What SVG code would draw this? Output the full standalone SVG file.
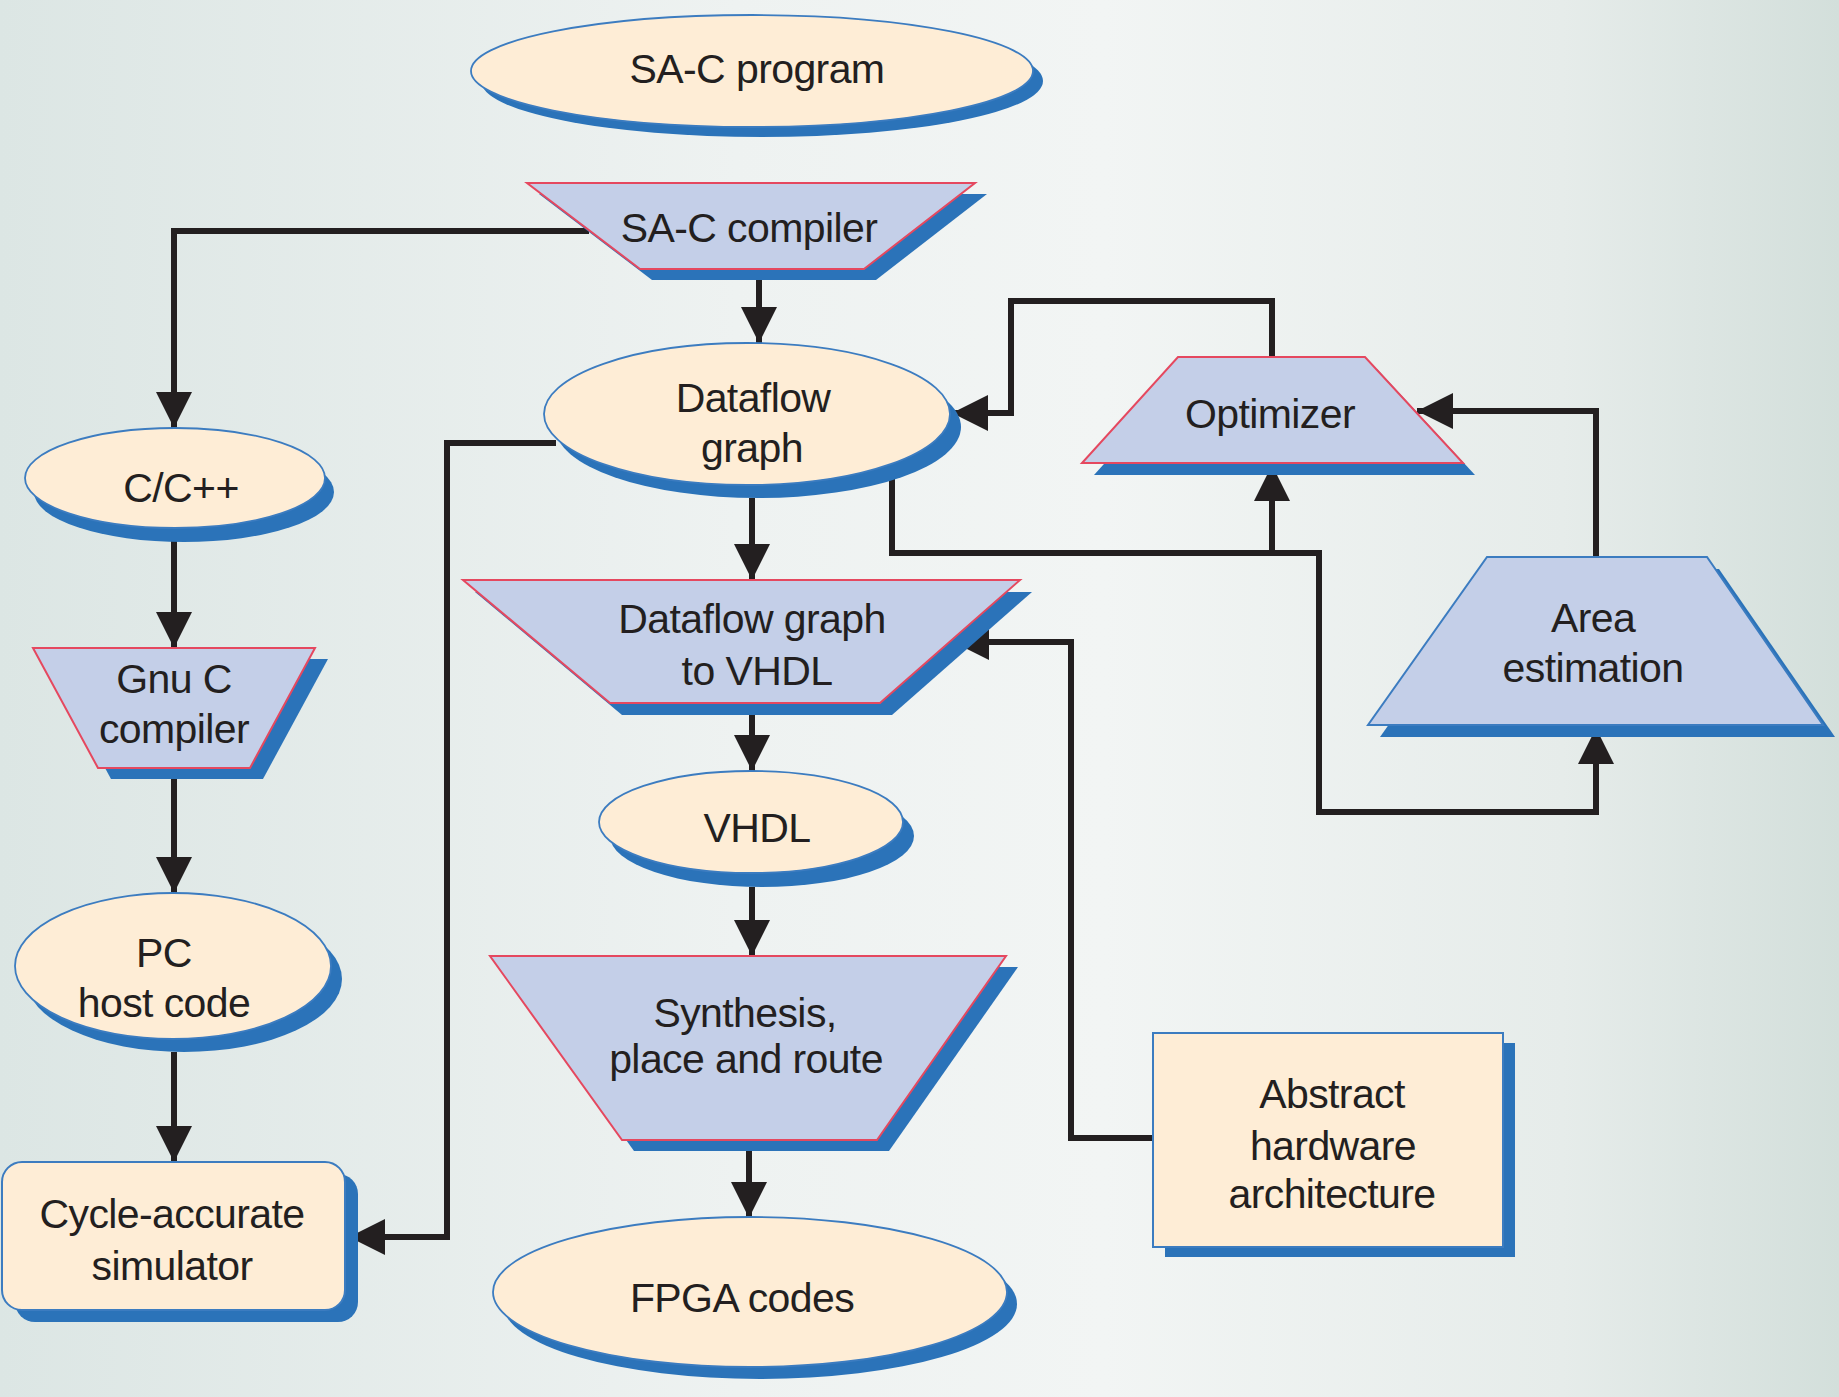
<svg xmlns="http://www.w3.org/2000/svg" width="1839" height="1397" viewBox="0 0 1839 1397">
  <defs>
    <linearGradient id="bg" x1="0" y1="0" x2="1" y2="0">
      <stop offset="0" stop-color="#DCE6E4"/>
      <stop offset="0.4" stop-color="#EEF2F1"/>
      <stop offset="0.6" stop-color="#F2F5F4"/>
      <stop offset="0.85" stop-color="#E6ECEA"/>
      <stop offset="1" stop-color="#D3DFDB"/>
    </linearGradient>
    <marker id="arr" markerUnits="userSpaceOnUse" markerWidth="36" markerHeight="36" viewBox="0 0 36 36" refX="36" refY="18" orient="auto">
      <path d="M0,0 L36,18 L0,36 Z" fill="#231F20"/>
    </marker>
    <style>
      .shadow { fill: #2B73B9; }
      .ell { fill: #FEEDD6; stroke: #3C7CC0; stroke-width: 1.8; }
      .box { fill: #FEEDD6; stroke: #3C7CC0; stroke-width: 2; }
      .trap { fill: #C4CFE8; stroke: #E5485F; stroke-width: 2; stroke-linejoin: miter; }
      .trapb { fill: #C4CFE8; stroke: #3C7CC0; stroke-width: 2; }
      .lbl { font-family: "Liberation Sans", Arial, sans-serif; font-size: 41px; fill: #231F20; text-anchor: middle; letter-spacing: -0.6px; }
      .conn { fill: none; stroke: #231F20; stroke-width: 6; stroke-linejoin: miter; stroke-linecap: butt; }
    </style>
  </defs>

  <rect x="0" y="0" width="1839" height="1397" fill="url(#bg)"/>

  <g id="connectors">
    <path class="conn" d="M589,231 H174 V428" marker-end="url(#arr)"/>
    <path class="conn" d="M759,269 V343" marker-end="url(#arr)"/>
    <path class="conn" d="M752,498 V580" marker-end="url(#arr)"/>
    <path class="conn" d="M752,715 V771" marker-end="url(#arr)"/>
    <path class="conn" d="M752,887 V956" marker-end="url(#arr)"/>
    <path class="conn" d="M749,1150 V1218" marker-end="url(#arr)"/>
    <path class="conn" d="M174,540 V648" marker-end="url(#arr)"/>
    <path class="conn" d="M174,779 V893" marker-end="url(#arr)"/>
    <path class="conn" d="M174,1052 V1162" marker-end="url(#arr)"/>
    <path class="conn" d="M556,443 H447 V1237 H349" marker-end="url(#arr)"/>
    <path class="conn" d="M1272,357 V301 H1011 V413 H952" marker-end="url(#arr)"/>
    <path class="conn" d="M892,477 V553 H1319 V812 H1596 V728" marker-end="url(#arr)"/>
    <path class="conn" d="M1272,553 V465" marker-end="url(#arr)"/>
    <path class="conn" d="M1596,557 V411 H1417" marker-end="url(#arr)"/>
    <path class="conn" d="M1153,1138 H1071 V642 H953" marker-end="url(#arr)"/>
  </g>

  <g id="sac-program">
    <ellipse class="shadow" cx="762" cy="81" rx="281" ry="56"/>
    <ellipse class="ell" cx="752" cy="71" rx="281" ry="56"/>
    <text class="lbl" x="757" y="83">SA-C program</text>
  </g>

  <g id="sac-compiler">
    <polygon class="shadow" points="539,194 987,194 876,280 652,280"/>
    <polygon class="trap" points="527,183 975,183 864,269 640,269"/>
    <text class="lbl" x="749" y="242">SA-C compiler</text>
  </g>

  <g id="cpp">
    <ellipse class="shadow" cx="184" cy="492" rx="150" ry="50"/>
    <ellipse class="ell" cx="175" cy="478" rx="150" ry="50"/>
    <text class="lbl" x="181" y="502">C/C++</text>
  </g>

  <g id="gnu-c-compiler">
    <polygon class="shadow" points="46,659 328,659 263,779 111,779"/>
    <polygon class="trap" points="33,648 315,648 250,768 98,768"/>
    <text class="lbl" x="174" y="693">Gnu C</text>
    <text class="lbl" x="174" y="743">compiler</text>
  </g>

  <g id="pc-host-code">
    <ellipse class="shadow" cx="184" cy="979" rx="158" ry="73"/>
    <ellipse class="ell" cx="173" cy="966" rx="158" ry="73"/>
    <text class="lbl" x="164" y="967">PC</text>
    <text class="lbl" x="164" y="1017">host code</text>
  </g>

  <g id="cycle-accurate-simulator">
    <rect class="shadow" x="15" y="1174" width="343" height="148" rx="20"/>
    <rect class="box" x="2" y="1162" width="343" height="148" rx="20"/>
    <text class="lbl" x="172" y="1228">Cycle-accurate</text>
    <text class="lbl" x="172" y="1280">simulator</text>
  </g>

  <g id="dataflow-graph">
    <ellipse class="shadow" cx="758" cy="427" rx="203" ry="71"/>
    <ellipse class="ell" cx="747" cy="414" rx="203" ry="71"/>
    <text class="lbl" x="753" y="412">Dataflow</text>
    <text class="lbl" x="752" y="462">graph</text>
  </g>

  <g id="dataflow-to-vhdl">
    <polygon class="shadow" points="475,592 1032,592 892,715 622,715"/>
    <polygon class="trap" points="463,580 1020,580 880,703 610,703"/>
    <text class="lbl" x="752" y="633">Dataflow graph</text>
    <text class="lbl" x="757" y="685">to VHDL</text>
  </g>

  <g id="vhdl">
    <ellipse class="shadow" cx="762" cy="836" rx="152" ry="51"/>
    <ellipse class="ell" cx="751" cy="822" rx="152" ry="51"/>
    <text class="lbl" x="757" y="842">VHDL</text>
  </g>

  <g id="synthesis">
    <polygon class="shadow" points="502,967 1018,967 889,1151 634,1151"/>
    <polygon class="trap" points="490,956 1006,956 877,1140 622,1140"/>
    <text class="lbl" x="745" y="1027">Synthesis,</text>
    <text class="lbl" x="746" y="1073">place and route</text>
  </g>

  <g id="fpga-codes">
    <ellipse class="shadow" cx="760" cy="1304" rx="257" ry="75"/>
    <ellipse class="ell" cx="750" cy="1292" rx="257" ry="75"/>
    <text class="lbl" x="742" y="1312">FPGA codes</text>
  </g>

  <g id="optimizer">
    <polygon class="shadow" points="1190,369 1377,369 1475,475 1094,475"/>
    <polygon class="trap" points="1178,357 1365,357 1463,463 1082,463"/>
    <text class="lbl" x="1270" y="428">Optimizer</text>
  </g>

  <g id="area-estimation">
    <polygon class="shadow" points="1499,569 1719,569 1835,737 1380,737"/>
    <polygon class="trapb" points="1487,557 1707,557 1823,725 1368,725"/>
    <text class="lbl" x="1593" y="632">Area</text>
    <text class="lbl" x="1593" y="682">estimation</text>
  </g>

  <g id="abstract-hardware">
    <rect class="shadow" x="1165" y="1043" width="350" height="214"/>
    <rect class="box" x="1153" y="1033" width="350" height="214"/>
    <text class="lbl" x="1332" y="1108">Abstract</text>
    <text class="lbl" x="1333" y="1160">hardware</text>
    <text class="lbl" x="1332" y="1208">architecture</text>
  </g>
</svg>
